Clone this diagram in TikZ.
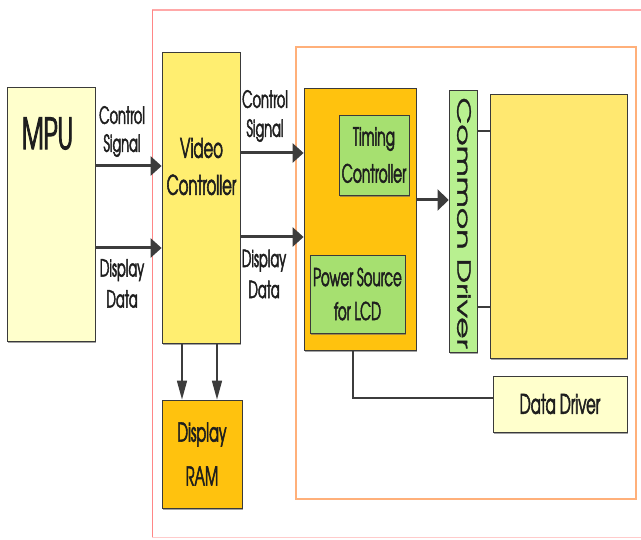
\documentclass[tikz,border=0pt]{standalone}
\usepackage{graphicx}
\usepackage{fontspec}
\setmainfont{texgyreadventor-regular.otf}[FakeStretch=0.55,FakeBold=2]
\newfontfamily\rotfont{texgyreadventor-regular.otf}[FakeBold=1.5]
\usetikzlibrary{arrows.meta,shadows}
\definecolor{cream}{HTML}{FFFFCC}
\definecolor{vcyellow}{HTML}{FFEE70}
\definecolor{panelyellow}{HTML}{FFE870}
\definecolor{orangebox}{HTML}{FFC20E}
\definecolor{greenbox}{HTML}{A6E070}
\definecolor{lightgreen}{HTML}{B8F090}
\definecolor{boxline}{HTML}{3A3A3A}
\definecolor{arrowgray}{HTML}{3C3C3C}
\definecolor{pinkline}{HTML}{FFA8A8}
\definecolor{orangeline}{HTML}{FFB07A}
\definecolor{txt}{HTML}{1E1E1E}
\tikzset{
  box/.style={draw=boxline, line width=0.8pt, inner sep=0pt,
    drop shadow={shadow xshift=1pt, shadow yshift=-1.6pt, fill=black!60, opacity=0.6}},
  lbl/.style={inner sep=0pt, align=center, text=txt},
  harrow/.style={draw=arrowgray, line width=3pt,
    -{Triangle[length=11pt,width=19pt]}},
  varrow/.style={draw=arrowgray, line width=1.6pt,
    -{Triangle[length=19pt,width=10pt]}},
  wire/.style={draw=arrowgray, line width=2.2pt},
}
\begin{document}
\begin{tikzpicture}[x=1pt,y=-1pt]
\useasboundingbox (0,0) rectangle (641,540);
% outer frames
\draw[pinkline, line width=2.6pt] (660,10) -- (152,10);
\draw[pinkline!80!red, line width=1pt] (152,10) -- (152,538);
\draw[pinkline!60, line width=1pt] (152,538) -- (660,538);
\draw[orangeline, line width=2.2pt] (296,47) rectangle (636,499);

% boxes
\node[box, fill=cream, minimum width=88pt, minimum height=254pt] (mpu) at (51,214) {};
\node[lbl, font=\fontsize{43}{50}\selectfont] (mputxt) at (47.5,133.5) {MPU};

\node[box, fill=vcyellow, minimum width=78pt, minimum height=291pt] (vc) at (201,197.5) {};
\node[lbl, font=\fontsize{27}{37}\selectfont] (vctxt) at (201.5,166.5) {Video\\Controller};

\node[box, fill=orangebox, minimum width=80pt, minimum height=108pt,
      lbl, font=\fontsize{26}{44}\selectfont] (ram) at (202,454) {Display\\RAM};

\node[box, fill=orangebox, minimum width=112pt, minimum height=262pt] (lcdc) at (360,219) {};

\node[box, fill=greenbox, minimum width=70pt, minimum height=80pt,
      lbl, font=\fontsize{25}{37}\selectfont] (tc) at (374,155) {Timing\\Controller};

\node[box, fill=greenbox, minimum width=95pt, minimum height=78pt,
      lbl, font=\fontsize{24.5}{34}\selectfont] (ps) at (357.5,294) {Power Source\\for LCD};

\node[box, fill=lightgreen, minimum width=28pt, minimum height=262pt] (cd) at (463,221) {};
\node[lbl, rotate=-90] (cdtxt) at (464,223)
  {\scalebox{1}[0.55]{\rotfont\fontsize{33}{36}\selectfont Common Driver}};

\node[box, fill=panelyellow, minimum width=137pt, minimum height=264pt] (panel) at (558.5,226) {};

\node[box, fill=cream, minimum width=134pt, minimum height=56pt,
      lbl, font=\fontsize{27}{30}\selectfont] (dd) at (560,404) {Data Driver};

% labels
\node[lbl, font=\fontsize{23.5}{28}\selectfont] (l1) at (122,131.5) {Control\\Signal};
\node[lbl, font=\fontsize{23.5}{31}\selectfont] (l2) at (122,283.5) {Display\\Data};
\node[lbl, font=\fontsize{23.5}{29}\selectfont] (l3) at (265,116) {Control\\Signal};
\node[lbl, font=\fontsize{23.5}{31}\selectfont] (l4) at (264,274) {Display\\Data};

% connectors
\draw[harrow] (mpu.east |- 0,166) -- (vc.west |- 0,166);
\draw[harrow] (mpu.east |- 0,248) -- (vc.west |- 0,248);
\draw[harrow] (vc.east |- 0,153) -- (lcdc.west |- 0,153);
\draw[harrow] (vc.east |- 0,237) -- (lcdc.west |- 0,237);
\draw[varrow] (vc.south -| 182,0) -- (ram.north -| 182,0);
\draw[varrow] (vc.south -| 217,0) -- (ram.north -| 217,0);
\draw[harrow, -{Triangle[length=11pt,width=21pt]}] (lcdc.east |- 0,200) -- (cd.west |- 0,200);
\draw[wire] (cd.east |- 0,131) -- (panel.west |- 0,131);
\draw[wire] (cd.east |- 0,307) -- (panel.west |- 0,307);
\draw[wire] (lcdc.south -| 353,0) |- (dd.west |- 0,398);
\end{tikzpicture}
\end{document}
